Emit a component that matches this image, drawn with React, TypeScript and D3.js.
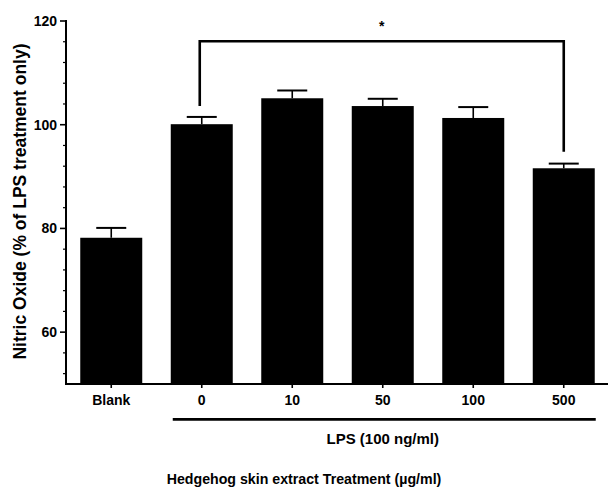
import React from "react";
import * as d3 from "d3";

const categories = ["Blank", "0", "10", "50", "100", "500"];
const means = [78.2, 100.1, 105.1, 103.6, 101.3, 91.6];
const errors = [1.9, 1.4, 1.5, 1.4, 2.1, 0.9];
const majorTicks = [60, 80, 100, 120];
const minorTicks = [52, 56, 64, 68, 72, 76, 84, 88, 92, 96, 104, 108, 112, 116];
const bracket = { from: "0", to: "500", top: 116.1, leftEnd: 103.6, rightEnd: 94.8, label: "*" };
const lpsGroup = ["0", "500"];

const W = 608;
const H = 488;
const FONT = "'Liberation Sans', Arial, Helvetica, sans-serif";

export default function App() {
  const x = d3.scaleBand<string>().domain(categories).range([66, 609]).paddingInner(0.315).paddingOuter(0.1575);
  const y = d3.scaleLinear().domain([50, 120]).range([384, 21]);
  const bw = x.bandwidth();
  const cx = (c: string) => (x(c) as number) + bw / 2;
  const capW = 30;

  const bx1 = cx(bracket.from) - 2;
  const bx2 = cx(bracket.to);
  const bracketPath = d3.path();
  bracketPath.moveTo(bx1, y(bracket.leftEnd));
  bracketPath.lineTo(bx1, y(bracket.top));
  bracketPath.lineTo(bx2, y(bracket.top));
  bracketPath.lineTo(bx2, y(bracket.rightEnd));

  return (
    <svg width={W} height={H} style={{ position: "absolute", left: 0, top: 0, background: "#fff" }} fontFamily={FONT}>
      <rect x={0} y={0} width={W} height={H} fill="#fff" />
      {/* bars */}
      {categories.map((c, i) => (
        <g key={c}>
          <rect x={x(c)} y={y(means[i])} width={bw} height={y(50) - y(means[i])} fill="#000" />
          <line x1={cx(c)} x2={cx(c)} y1={y(means[i])} y2={y(means[i] + errors[i])} stroke="#000" strokeWidth={1.6} />
          <line x1={cx(c) - capW / 2} x2={cx(c) + capW / 2} y1={y(means[i] + errors[i])} y2={y(means[i] + errors[i])} stroke="#000" strokeWidth={2} />
        </g>
      ))}
      {/* y axis */}
      <line x1={66} x2={66} y1={y(120) - 1} y2={y(50) + 1} stroke="#000" strokeWidth={2} />
      {majorTicks.map((t) => (
        <g key={t}>
          <line x1={60} x2={66} y1={y(t)} y2={y(t)} stroke="#000" strokeWidth={1.6} />
          <text x={57} y={y(t)} dy="0.36em" textAnchor="end" fontSize={14} fontWeight="bold">{t}</text>
        </g>
      ))}
      {minorTicks.map((t) => (
        <line key={t} x1={63} x2={66} y1={y(t)} y2={y(t)} stroke="#000" strokeWidth={1.2} />
      ))}
      <text transform={`translate(25.5,${(y(120) + y(50)) / 2 - 1}) rotate(-90)`} textAnchor="middle" fontSize={17.5} fontWeight="bold">
        Nitric Oxide (% of LPS treatment only)
      </text>
      {/* x axis */}
      <line x1={65} x2={609} y1={y(50)} y2={y(50)} stroke="#000" strokeWidth={2} />
      {categories.map((c) => (
        <g key={c}>
          <line x1={cx(c)} x2={cx(c)} y1={y(50)} y2={y(50) + 4} stroke="#000" strokeWidth={1.6} />
          <text x={cx(c)} y={405} textAnchor="middle" fontSize={14} fontWeight="bold">{c}</text>
        </g>
      ))}
      {/* LPS line */}
      <line x1={(x(lpsGroup[0]) as number) + 2} x2={(x(lpsGroup[1]) as number) + bw + 1} y1={419.3} y2={419.3} stroke="#000" strokeWidth={2.7} />
      <text x={((x(lpsGroup[0]) as number) + (x(lpsGroup[1]) as number) + bw) / 2} y={443.5} textAnchor="middle" fontSize={15} fontWeight="bold">LPS (100 ng/ml)</text>
      <text x={304} y={484} textAnchor="middle" fontSize={14.2} fontWeight="bold">Hedgehog skin extract Treatment (µg/ml)</text>
      {/* bracket */}
      <path d={bracketPath.toString()} fill="none" stroke="#000" strokeWidth={2.6} />
      <text x={(bx1 + bx2) / 2} y={31} textAnchor="middle" fontSize={14} fontWeight="bold">{bracket.label}</text>
    </svg>
  );
}
